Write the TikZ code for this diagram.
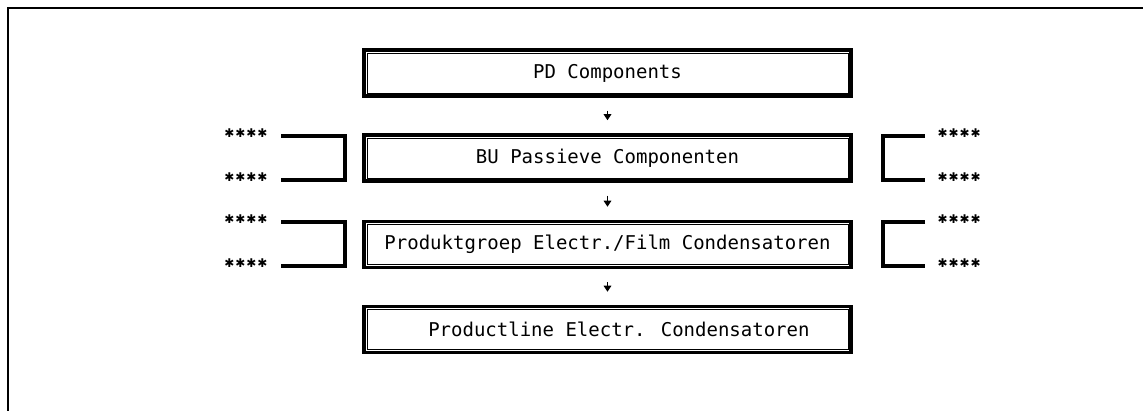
\documentclass[tikz,border=0pt]{standalone}
\usepackage{fontspec}
\newfontfamily\plotfont{DejaVu Sans Mono}
\newfontfamily\symfont{DejaVu Sans}
\usetikzlibrary{arrows.meta,calc}
\newcommand{\fourstars}{\makebox[11pt]{\symfont ✱}\makebox[11pt]{\symfont ✱}\makebox[11pt]{\symfont ✱}\makebox[11pt]{\symfont ✱}}
\begin{document}
\begin{tikzpicture}[x=1pt,y=-1pt,
  every node/.style={font=\plotfont\fontsize{18.9}{22}\selectfont},
  levelbox/.style={draw, line width=3.5pt, minimum width=487pt, minimum height=46pt, inner sep=0pt, font=\plotfont\fontsize{19}{22}\selectfont},
  innerline/.style={line width=0.8pt},
  flow/.style={line width=1.8pt, -{Triangle[width=7.5pt,length=6pt]}, shorten <=13pt, shorten >=13pt},
  stars/.style={inner sep=0pt, font=\fontsize{12}{14}\selectfont},
  bracketline/.style={line width=3.8pt},
  frameline/.style={line width=1.5pt}
]
\useasboundingbox (0,0) rectangle (1143,411);
\draw[frameline] (8,411) -- (8,8) -- (1143,8);

\node[levelbox] (b1) at (607.5,73) {PD Components};
\node[levelbox] (b2) at (607.5,158) {BU Passieve Componenten};
\node[levelbox] (b3) at (607.5,244.5) {Produktgroep Electr./Film Condensatoren};
\node[levelbox] (b4) at (607.5,329.5) {\phantom{xx}Productline Electr. Condensatoren};

\foreach \n in {b1,b2,b3,b4}
  \draw[innerline] ([shift={(4.8pt,-4.8pt)}]\n.north west) rectangle ([shift={(-4.8pt,4.8pt)}]\n.south east);

\draw[flow] (b1) -- (b2);
\draw[flow] (b2) -- (b3);
\draw[flow] (b3) -- (b4);

\node[stars, anchor=east] (sl1) at (268,133) {\fourstars};
\node[stars, anchor=east] (sl2) at (268,177) {\fourstars};
\node[stars, anchor=east] (sl3) at (268,219) {\fourstars};
\node[stars, anchor=east] (sl4) at (268,263) {\fourstars};
\node[stars, anchor=west] (sr1) at (937,133) {\fourstars};
\node[stars, anchor=west] (sr2) at (937,177) {\fourstars};
\node[stars, anchor=west] (sr3) at (937,219) {\fourstars};
\node[stars, anchor=west] (sr4) at (937,263) {\fourstars};

\draw[bracketline] ($(sl1.east)+(13,3)$) -- ++(64,0) |- ($(sl2.east)+(13,3)$);
\draw[bracketline] ($(sl3.east)+(13,3)$) -- ++(64,0) |- ($(sl4.east)+(13,3)$);
\draw[bracketline] ($(sr1.west)+(-12,3)$) -- ++(-42,0) |- ($(sr2.west)+(-12,3)$);
\draw[bracketline] ($(sr3.west)+(-12,3)$) -- ++(-42,0) |- ($(sr4.west)+(-12,3)$);
\end{tikzpicture}
\end{document}
